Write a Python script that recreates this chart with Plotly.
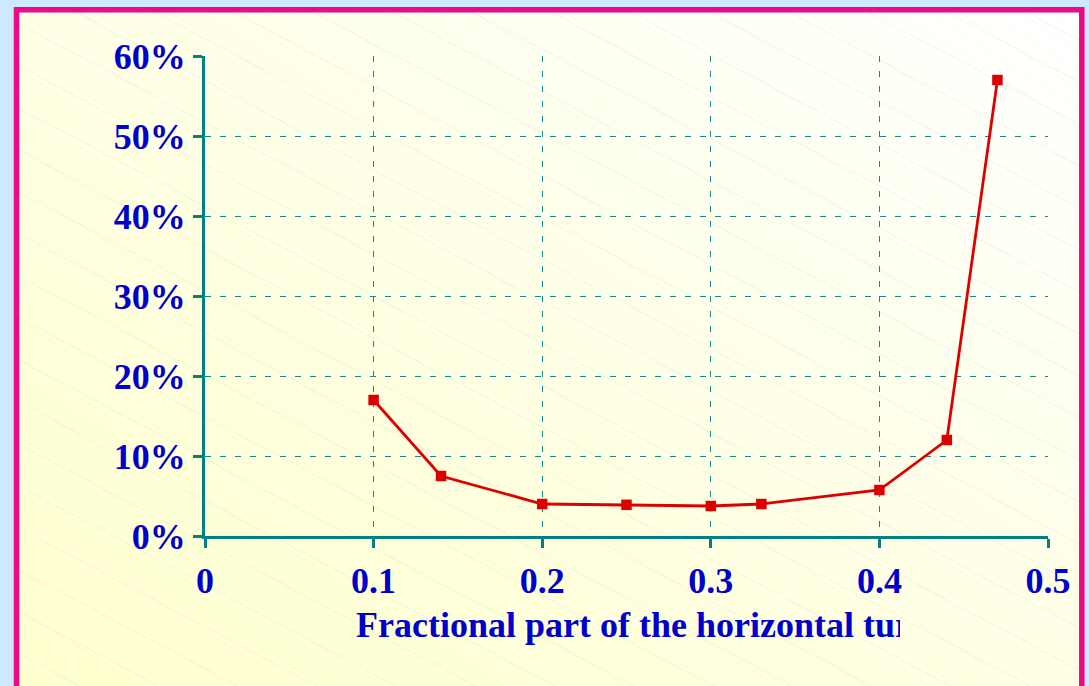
import plotly.graph_objects as go

# Fraction of horizontal turn vs. percentage
frac_turn = [0.10, 0.14, 0.20, 0.25, 0.30, 0.33, 0.40, 0.44, 0.47]
pct_value = [0.170, 0.075, 0.040, 0.039, 0.0375, 0.040, 0.0575, 0.120, 0.570]

x_ticks = [0, 0.1, 0.2, 0.3, 0.4, 0.5]
x_tick_text = ["0", "0.1", "0.2", "0.3", "0.4", "0.5"]
y_ticks = [0, 0.1, 0.2, 0.3, 0.4, 0.5, 0.6]

x_title = "Fractional part of the horizontal turn"

W, H = 1089, 686
TEAL = "#008080"
GRID = "#138a8a"
BLUE = "#0000cc"
RED = "#dd0000"
FAMILY = "Liberation Serif, Times New Roman, serif"
TICK_FONT = dict(family=FAMILY, size=36, color=BLUE, weight="bold")
TITLE_FONT = dict(family=FAMILY, size=36, color=BLUE, weight="bold")


def px(x):
    return x / W


def py(y):
    return 1 - y / H


def clip_halfplane(poly, f, keep_ge, level):
    out = []
    n = len(poly)
    for i in range(n):
        a, b = poly[i], poly[(i + 1) % n]
        fa, fb = f(*a) - level, f(*b) - level
        ina = fa >= 0 if keep_ge else fa <= 0
        inb = fb >= 0 if keep_ge else fb <= 0
        if ina:
            out.append(a)
        if ina != inb:
            t = fa / (fa - fb)
            out.append((a[0] + t * (b[0] - a[0]), a[1] + t * (b[1] - a[1])))
    return out


def path_of(poly):
    pts = " L ".join(f"{px(x):.5f},{py(y):.5f}" for x, y in poly)
    return f"M {pts} Z"


# panel interior (pixels)
IX0, IY0, IX1, IY1 = 19, 12.5, 1079.5, 686
rect = [(IX0, IY0), (IX1, IY0), (IX1, IY1), (IX0, IY1)]

shapes = []

# diagonal pale-yellow to white wash
def fdiag(x, y):
    return (x - IX0) / (IX1 - IX0) - (y - IY0) / (IY1 - IY0)

N = 70
for k in range(N):
    lo = -1 + 2 * k / N
    hi = -1 + 2 * (k + 1) / N
    poly = clip_halfplane(rect, fdiag, True, lo)
    poly = clip_halfplane(poly, fdiag, False, hi)
    if len(poly) < 3:
        continue
    t = (k + 0.5) / N
    b = int(round(206 + (255 - 206) * t ** 1.1))
    shapes.append(dict(type="path", xref="paper", yref="paper", path=path_of(poly),
                       fillcolor=f"rgb(255,255,{b})", line=dict(width=0), layer="below"))

# faint diagonal hatch lines
slope = 0.53
for c in range(-700, 700, 42):
    pts = []
    for x in (IX0, IX1):
        y = slope * x + c
        if IY0 <= y <= IY1:
            pts.append((x, y))
    for y in (IY0, IY1):
        x = (y - c) / slope
        if IX0 <= x <= IX1:
            pts.append((x, y))
    if len(pts) >= 2:
        (xa, ya), (xb, yb) = pts[0], pts[1]
        shapes.append(dict(type="line", xref="paper", yref="paper",
                           x0=px(xa), y0=py(ya), x1=px(xb), y1=py(yb),
                           line=dict(color="rgba(170,205,225,0.2)", width=1), layer="below"))

# magenta frame
shapes.append(dict(type="rect", xref="paper", yref="paper",
                   x0=px(16.5), y0=py(9.7), x1=px(1081.8), y1=py(705),
                   line=dict(color="#ee0a84", width=5.5), fillcolor="rgba(0,0,0,0)", layer="below"))

fig = go.Figure()

fig.add_trace(go.Scatter(
    x=frac_turn, y=pct_value, mode="lines+markers",
    line=dict(color=RED, width=2.8),
    marker=dict(symbol="square", size=10.5, color=RED),
    cliponaxis=False, showlegend=False, hoverinfo="skip",
))

# axis title, clipped at its subplot edge
TITLE_RIGHT = 900
fig.add_trace(go.Scatter(
    x=[356], y=[0.5], mode="text", text=[x_title], textposition="middle right",
    textfont=TITLE_FONT, cliponaxis=True, xaxis="x2", yaxis="y2",
    showlegend=False, hoverinfo="skip",
))

axis_common = dict(
    showline=True, linecolor=TEAL, linewidth=3,
    ticks="outside", ticklen=9, tickwidth=3, tickcolor=TEAL,
    showgrid=True, gridcolor=GRID, gridwidth=1.3, griddash="6px,9px",
    zeroline=False, tickfont=TICK_FONT, automargin=False,
)

fig.update_layout(
    width=W, height=H,
    margin=dict(l=0, r=0, t=0, b=0, pad=0, autoexpand=False),
    paper_bgcolor="#cce9ff",
    plot_bgcolor="rgba(0,0,0,0)",
    shapes=shapes,
    xaxis=dict(domain=[px(205), px(1048)], range=[0, 0.5], tickvals=x_ticks,
               ticktext=x_tick_text, ticklabelstandoff=2, **axis_common),
    yaxis=dict(domain=[py(536), py(56)], range=[0, 0.6], tickvals=y_ticks,
               tickformat=".0%", ticklabelstandoff=0, **axis_common),
    xaxis2=dict(domain=[0, px(TITLE_RIGHT)], range=[0, TITLE_RIGHT], visible=False,
                anchor="y2", fixedrange=True, automargin=False),
    yaxis2=dict(domain=[py(660), py(596)], range=[0, 1], visible=False,
                anchor="x2", fixedrange=True, automargin=False),
)

fig.write_html("out.html")
